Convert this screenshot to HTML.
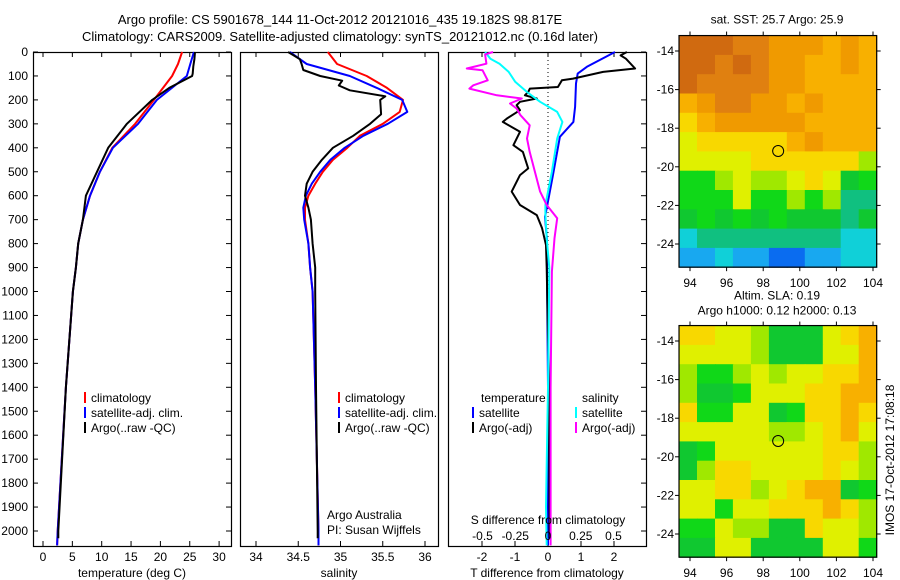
<!DOCTYPE html>
<html><head><meta charset="utf-8"><style>
html,body{margin:0;padding:0;background:#fff;}
svg{display:block;font-family:"Liberation Sans",sans-serif;}
</style></head><body>
<svg id="c" width="900" height="580" xmlns="http://www.w3.org/2000/svg"></svg>
<script>
// ---------- data ----------
const depthTicks=[0,100,200,300,400,500,600,700,800,900,1000,1100,1200,1300,1400,1500,1600,1700,1800,1900,2000];
const tempTicks=[0,5,10,15,20,25,30];
const salTicks=[34,34.5,35,35.5,36];
const salTickLabels=["34","34.5","35","35.5","36"];
const tdTicks=[-2,-1,0,1,2];
const sdTicks=[-0.5,-0.25,0,0.25,0.5];
const sdTickLabels=["-0.5","-0.25","0","0.25","0.5"];

const tDepth=[0,50,100,200,300,400,500,600,700,800,900,1000,1400,2000,2060];
const tClim=[23.7,23.0,22.0,18.9,15.7,11.8,9.7,8.0,6.8,6.0,5.6,5.1,3.9,2.5,2.4];
const tSat=[25.7,25.1,24.5,19.4,16.2,11.9,9.7,8.0,6.8,6.0,5.6,5.1,3.9,2.5,2.4];
const argoTDepth=[0,30,60,90,100,150,200,300,400,500,600,700,800,900,1000,1400,2000,2030];
const tArgo=[25.9,25.8,25.6,25.5,25.4,21.5,18.6,14.3,11.1,9.2,7.3,6.8,6.0,5.6,5.1,3.9,2.6,2.6];

const sDepth=[0,50,100,150,200,250,300,350,400,450,500,550,600,650,700,800,900,1000,1400,2000,2060];
const sClim=[34.85,34.96,35.31,35.55,35.74,35.70,35.50,35.23,35.08,34.91,34.79,34.70,34.62,34.58,34.58,34.62,34.64,34.67,34.70,34.74,34.74];
const sSat=[34.40,34.60,35.11,35.43,35.73,35.79,35.56,35.27,35.05,34.88,34.76,34.66,34.59,34.56,34.57,34.62,34.64,34.67,34.70,34.74,34.74];
const argoSDepth=[0,30,50,75,100,120,140,160,185,200,260,300,350,400,450,500,550,600,650,700,800,900,1000,1400,2000,2030];
const sArgo=[34.38,34.52,34.54,34.56,34.76,35.02,34.98,35.11,35.53,35.47,35.48,35.35,35.15,34.91,34.78,34.67,34.60,34.58,34.62,34.65,34.67,34.70,34.70,34.71,34.73,34.73];

const tdSatDepth=[0,62,90,131,229,292,354,506,646,688,785,924,1400,2000,2060];
const tdSat=[2.03,1.18,0.9,0.85,0.82,0.77,0.36,0.16,-0.03,-0.09,-0.03,-0.03,0.0,0.0,0.0];
const tdArgoDepth=[0,14,28,69,83,111,118,146,153,167,181,194,208,222,243,278,292,333,389,417,486,514,583,639,681,736,806,900,1400,2000,2030];
const tdArgo=[2.39,2.2,2.36,2.64,1.67,0.76,0.42,0.3,-0.55,-0.6,-0.7,-0.34,-0.85,-0.95,-0.85,-1.25,-1.37,-0.85,-1.05,-0.76,-0.6,-0.85,-1.1,-0.85,-0.34,-0.18,-0.06,-0.04,0.03,0.05,0.05];
const sdSatDepth=[0,28,49,83,125,167,208,250,292,361,500,639,681,778,900,1400,1900,2060];
const sdSat=[-0.48,-0.44,-0.37,-0.3,-0.25,-0.16,-0.06,0.07,0.11,0.07,0.03,-0.02,-0.02,-0.01,0.01,0.0,-0.015,-0.01];
const sdArgoDepth=[0,10,49,69,76,118,139,153,181,194,215,236,264,306,361,417,500,583,639,694,778,917,1400,2000,2060];
const sdArgo=[-0.42,-0.48,-0.47,-0.62,-0.5,-0.46,-0.57,-0.6,-0.39,-0.2,-0.29,-0.24,-0.21,-0.14,-0.16,-0.14,-0.1,-0.06,-0.01,0.07,0.05,0.03,0.02,0.02,0.02];

const mapLonTicks=[94,96,98,100,102,104];
const mapLatTicks=[-14,-16,-18,-20,-22,-24];
const sstGrid=["cccbbaaa9a9","ccbcbaa99a9","cbbbbaa9999","9abbaa9a999","89aaaaa9999","7888889a999","77778888886","55676678745","55575565633","45454544434","23333333322","11211001122"];
const slaGrid=["88776444789","77776444779","65567677889","64457778899","85577458898","77777667897","45777777886","46887777876","77886789945","77577888986","55766448776","44774444775"];
const argoLon=98.817, argoLat=-19.182;

// ---------- helpers ----------
const svg=document.getElementById('c');
const NS="http://www.w3.org/2000/svg";
function el(tag,attrs,parent){const e=document.createElementNS(NS,tag);for(const k in attrs)e.setAttribute(k,attrs[k]);(parent||svg).appendChild(e);return e;}
function txt(x,y,s,anchor,parent,size){const t=el('text',{x:x,y:y,'font-size':size||12,'text-anchor':anchor||'middle',fill:'#000'},parent);t.textContent=s;return t;}

const Y0=52, PXM=0.2395, YB=546;
const yD=d=>Y0+d*PXM;
const xT=v=>43+v*5.87;
const xS=v=>256+(v-34)*84.5;
const xTD=v=>548+v*33;
const xSD=v=>548+v*131;

function frame(x1,x2,name){
  const r=el('rect',{x:x1+0.5,y:Y0+0.5,width:x2-x1,height:YB-Y0,fill:'none',stroke:'#000','stroke-width':1.2});
  
  
}
function line(xs,ds,xf,color,name,w){
  const pts=xs.map((v,i)=>xf(v).toFixed(1)+','+yD(ds[i]).toFixed(1)).join(' ');
  const p=el('polyline',{points:pts,fill:'none',stroke:color,'stroke-width':w||2,'stroke-linejoin':'round'});
  
  
}
function xAxis(ticks,labels,xf,x1,x2,title,name){
  const g=el('g',{});
  
  
  ticks.forEach((v,i)=>{const x=xf(v);el('line',{x1:x,x2:x,y1:YB,y2:YB-5,stroke:'#000'},g);el('line',{x1:x,x2:x,y1:Y0,y2:Y0+5,stroke:'#000'},g);txt(x,561,labels?labels[i]:String(v),'middle',g);});
  txt((x1+x2)/2,577,title,'middle',g);
}

// titles
const t1=txt(340,24,"Argo profile: CS 5901678_144 11-Oct-2012 20121016_435 19.182S 98.817E",'middle',null,13);


const t2=txt(340,41,"Climatology: CARS2009. Satellite-adjusted climatology: synTS_20121012.nc (0.16d later)",'middle',null,13);



// depth axis
const dg=el('g',{});


depthTicks.forEach(d=>{const y=yD(d);el('line',{x1:33,x2:38,y1:y,y2:y,stroke:'#000'},dg);el('line',{x1:226,x2:231,y1:y,y2:y,stroke:'#000'},dg);el('line',{x1:641,x2:646,y1:y,y2:y,stroke:'#000'},dg);txt(28,y+4,String(d),'end',dg);});

// panel 1
frame(33,231,'temperature-panel');
xAxis(tempTicks,null,xT,33,231,'temperature (deg C)','temperature-x-axis');
line(tClim,tDepth,xT,'#ff0000','temp-climatology-line');
line(tSat,tDepth,xT,'#0000ff','temp-satellite-line');
line(tArgo,argoTDepth,xT,'#000000','temp-argo-line');

// panel 2
frame(240,438,'salinity-panel');
xAxis(salTicks,salTickLabels,xS,240,438,'salinity','salinity-x-axis');
line(sClim,sDepth,xS,'#ff0000','sal-climatology-line');
line(sSat,sDepth,xS,'#0000ff','sal-satellite-line');
line(sArgo,argoSDepth,xS,'#000000','sal-argo-line');

// panel 3
frame(448,646,'difference-panel');
xAxis(tdTicks,null,xTD,448,646,'T difference from climatology','t-diff-x-axis');
const zl=el('line',{x1:548,x2:548,y1:Y0,y2:YB,stroke:'#000','stroke-dasharray':'1,3'});


line(tdSat,tdSatDepth,xTD,'#0000ff','t-diff-satellite-line');
line(tdArgo,tdArgoDepth,xTD,'#000000','t-diff-argo-line');
line(sdSat,sdSatDepth,xSD,'#00ffff','s-diff-satellite-line');
line(sdArgo,sdArgoDepth,xSD,'#ff00ff','s-diff-argo-line');
const sg=el('g',{});


txt(548,524,'S difference from climatology','middle',sg);
sdTicks.forEach((v,i)=>txt(xSD(v),540,sdTickLabels[i],'middle',sg));

// legends
function legend(x,y,color,label,name){
  const g=el('g',{});
  
  
  el('line',{x1:x,x2:x,y1:y-10,y2:y+1,stroke:color,'stroke-width':2},g);
  txt(x+6,y,label,'start',g);
}
legend(85,402,'#ff0000','climatology','legend-climatology');
legend(85,417,'#0000ff','satellite-adj. clim.','legend-satellite-adj');
legend(85,432,'#000000','Argo(..raw -QC)','legend-argo');
legend(339,402,'#ff0000','climatology','legend2-climatology');
legend(339,417,'#0000ff','satellite-adj. clim.','legend2-satellite-adj');
legend(339,432,'#000000','Argo(..raw -QC)','legend2-argo');
const lt=txt(481,402,'temperature','start');
const ls=txt(582,402,'salinity','start');
legend(473,417,'#0000ff','satellite','legend-t-satellite');
legend(473,432,'#000000','Argo(-adj)','legend-t-argo');
legend(576,417,'#00ffff','satellite','legend-s-satellite');
legend(576,432,'#ff00ff','Argo(-adj)','legend-s-argo');
const cr=el('g',{});
txt(327,519,'Argo Australia','start',cr);txt(327,534,'PI: Susan Wijffels','start',cr);

// maps
const pal={'0':'#0a6cf0','1':'#18a8f0','2':'#10d0d8','3':'#10c080','4':'#10c830','5':'#10d818','6':'#a0e800','7':'#e0f000','8':'#f8d800','9':'#f8b000','a':'#f09a00','b':'#e08010','c':'#d06a10'};
const LON0=93.4, LON1=104.2, LAT0=-13.2, LAT1=-25.2;
const xL=lon=>690+(lon-94)*18.3;
function drawMap(grid,lat14y,name,title1,title2){
  const yL=lat=>lat14y+(-14-lat)*19.3;
  const g=el('g',{});
  
  
  const rows=grid.length, cols=grid[0].length;
  const dlon=(LON1-LON0)/cols, dlat=(LAT0-LAT1)/rows;
  grid.forEach((row,r)=>{for(let c=0;c<cols;c++){
    const x=xL(LON0+c*dlon), y=yL(LAT0-r*dlat);
    const cell=el('rect',{x:x.toFixed(1),y:y.toFixed(1),width:(xL(LON0+(c+1)*dlon)-x+0.6).toFixed(1),height:(yL(LAT0-(r+1)*dlat)-y+0.6).toFixed(1),fill:pal[row[c]]},g);
    
    
  }});
  el('rect',{x:xL(LON0),y:yL(LAT0),width:xL(LON1)-xL(LON0),height:yL(LAT1)-yL(LAT0),fill:'none',stroke:'#000','stroke-width':1.2},g);
  const top=yL(LAT0), bot=yL(LAT1);
  mapLonTicks.forEach(v=>{const x=xL(v);el('line',{x1:x,x2:x,y1:bot,y2:bot+4,stroke:'#000'},g);el('line',{x1:x,x2:x,y1:top,y2:top-4,stroke:'#000'},g);txt(x,bot+20,String(v),'middle',g);});
  mapLatTicks.forEach(v=>{const y=yL(v);el('line',{x1:xL(LON0),x2:xL(LON0)-4,y1:y,y2:y,stroke:'#000'},g);el('line',{x1:xL(LON1),x2:xL(LON1)+4,y1:y,y2:y,stroke:'#000'},g);txt(674,y+4,String(v),'end',g);});
  el('circle',{cx:xL(argoLon),cy:yL(argoLat),r:5.5,fill:'none',stroke:'#000','stroke-width':1},g);
  if(title2){txt(777,top-26,title1,'middle',g);txt(777,top-11,title2,'middle',g);}
  else txt(777,top-12,title1,'middle',g);
}
drawMap(sstGrid,51,'sst-map','sat. SST: 25.7 Argo: 25.9');
drawMap(slaGrid,341,'sla-map','Altim. SLA: 0.19','Argo h1000: 0.12 h2000: 0.13');
const im=el('text',{x:0,y:0,'font-size':12,'text-anchor':'middle',transform:'translate(894,460) rotate(-90)'});
im.textContent='IMOS 17-Oct-2012 17:08:18';


</script>
</body></html>
